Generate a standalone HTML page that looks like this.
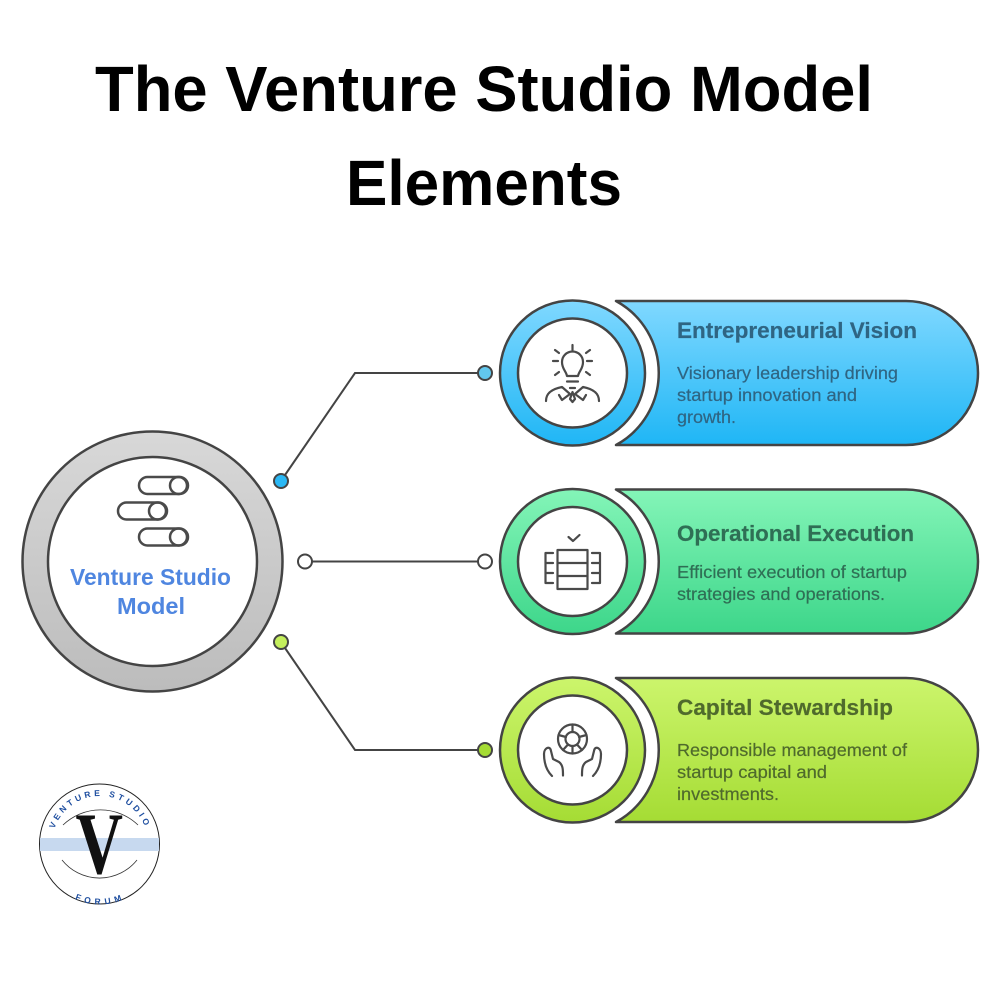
<!DOCTYPE html>
<html><head><meta charset="utf-8"><style>html,body{margin:0;padding:0;background:#fff}svg{display:block}
text{font-family:"Liberation Sans",sans-serif}</style></head><body>
<svg width="1000" height="1000" viewBox="0 0 1000 1000" xmlns="http://www.w3.org/2000/svg">
<defs>
<linearGradient id="g0" x1="0" y1="0" x2="0" y2="1"><stop offset="0" stop-color="#d8d8d8"/><stop offset="1" stop-color="#bcbcbc"/></linearGradient>
<linearGradient id="g1" x1="0" y1="0" x2="0" y2="1"><stop offset="0" stop-color="#80d8ff"/><stop offset="1" stop-color="#1fb6f5"/></linearGradient>
<linearGradient id="g2" x1="0" y1="0" x2="0" y2="1"><stop offset="0" stop-color="#84f5b8"/><stop offset="1" stop-color="#3dd68a"/></linearGradient>
<linearGradient id="g3" x1="0" y1="0" x2="0" y2="1"><stop offset="0" stop-color="#ccf56c"/><stop offset="1" stop-color="#a5dc34"/></linearGradient>
<path id="lt" d="M52 844 A48 48 0 0 1 148 844"/>
<path id="lb" d="M46 844 A54 54 0 0 0 154 844"/>
</defs>

<g font-weight="700" fill="#000" font-size="64">
<text x="95" y="111" textLength="778" lengthAdjust="spacingAndGlyphs">The Venture Studio Model</text>
<text x="346" y="205" textLength="276" lengthAdjust="spacingAndGlyphs">Elements</text>
</g>

<!-- left hub -->
<circle cx="152.5" cy="561.5" r="130" fill="url(#g0)" stroke="#444" stroke-width="2.5"/>
<circle cx="152.5" cy="561.5" r="104.5" fill="#fff" stroke="#444" stroke-width="2.5"/>
<g fill="none" stroke="#4a4a4a" stroke-width="2.5">
<rect x="139" y="477" width="49" height="17" rx="8.5"/><circle cx="178.5" cy="485.5" r="8.5"/>
<rect x="118" y="502.5" width="49" height="17" rx="8.5"/><circle cx="157.5" cy="511" r="8.5"/>
<rect x="139" y="528.5" width="49" height="17" rx="8.5"/><circle cx="178.5" cy="537" r="8.5"/>
</g>
<g font-weight="700" fill="#4f86e0" font-size="23">
<text x="70" y="585" textLength="161" lengthAdjust="spacingAndGlyphs">Venture Studio</text>
<text x="117" y="614" textLength="68" lengthAdjust="spacingAndGlyphs">Model</text>
</g>

<!-- connectors -->
<g fill="none" stroke="#444" stroke-width="2">
<path d="M285 475 L355 373 H478"/>
<path d="M312 561.5 H478"/>
<path d="M285 648 L355 750 H478"/>
</g>
<g stroke="#444" stroke-width="2">
<circle cx="281" cy="481" r="7" fill="#2ab8f5"/>
<circle cx="485" cy="373" r="7" fill="#62c8ee"/>
<circle cx="305" cy="561.5" r="7" fill="#fff"/>
<circle cx="485" cy="561.5" r="7" fill="#fff"/>
<circle cx="281" cy="642" r="7" fill="#c4ef5c"/>
<circle cx="485" cy="750" r="7" fill="#a5dc34"/>
</g>

<!-- row 1 -->
<path d="M616 301 H906 A72 72 0 0 1 906 445 H616 A82 82 0 0 0 616 301 Z" fill="url(#g1)" stroke="#444" stroke-width="2.5" stroke-linejoin="round"/>
<circle cx="572.5" cy="373" r="72.5" fill="url(#g1)" stroke="#444" stroke-width="2.5"/>
<circle cx="572.5" cy="373" r="54.5" fill="#fff" stroke="#444" stroke-width="2.5"/>
<g fill="none" stroke="#4a4a4a" stroke-width="2.2" stroke-linecap="round" stroke-linejoin="round">
<path d="M567 376 C566 371 562 369 562 362 A10.5 10.5 0 0 1 583 362 C583 369 579 371 578 376 Z"/>
<path d="M567 381.5 H578"/>
<path d="M572.5 345 V350 M553 361 H558 M587 361 H592 M555 350 L559 353 M590 350 L586 353 M555 375 L559 372 M590 375 L586 372"/>
<path d="M546 401 C546 393 552 389 562 387 L570 394 L562 400 L559 395 M599 401 C599 393 593 389 583 387 L575 394 L583 400 L586 395"/>
<path d="M570 388 H575 M572.5 392 L570 399 L572.5 402 L575 399 Z"/>
</g>
<g fill="#2f6583" stroke="#2f6583" stroke-width="0.2">
<text x="677" y="338" font-size="22" font-weight="700" textLength="240" lengthAdjust="spacingAndGlyphs">Entrepreneurial Vision</text>
<g font-size="17.5">
<text x="677" y="379" textLength="221" lengthAdjust="spacingAndGlyphs">Visionary leadership driving</text>
<text x="677" y="401" textLength="180" lengthAdjust="spacingAndGlyphs">startup innovation and</text>
<text x="677" y="423" textLength="59" lengthAdjust="spacingAndGlyphs">growth.</text>
</g></g>

<!-- row 2 -->
<path d="M616 489.5 H906 A72 72 0 0 1 906 633.5 H616 A82 82 0 0 0 616 489.5 Z" fill="url(#g2)" stroke="#444" stroke-width="2.5" stroke-linejoin="round"/>
<circle cx="572.5" cy="561.5" r="72.5" fill="url(#g2)" stroke="#444" stroke-width="2.5"/>
<circle cx="572.5" cy="561.5" r="54.5" fill="#fff" stroke="#444" stroke-width="2.5"/>
<g fill="none" stroke="#4a4a4a" stroke-width="2.2" stroke-linecap="round" stroke-linejoin="round">
<path d="M568.5 537 L573 541 L579.5 535"/>
<rect x="557.5" y="550" width="30" height="39"/>
<path d="M557.5 563 H587.5 M557.5 576 H587.5"/>
<path d="M553 553 H545.5 V583 H553 M546 563 H553 M546 573 H553"/>
<path d="M592 553 H600 V583 H592 M592 563 H599 M592 573 H599"/>
</g>
<g fill="#2f6f55" stroke="#2f6f55" stroke-width="0.2">
<text x="677" y="541" font-size="22" font-weight="700" textLength="237" lengthAdjust="spacingAndGlyphs">Operational Execution</text>
<g font-size="17.5">
<text x="677" y="578" textLength="230" lengthAdjust="spacingAndGlyphs">Efficient execution of startup</text>
<text x="677" y="600" textLength="208" lengthAdjust="spacingAndGlyphs">strategies and operations.</text>
</g></g>

<!-- row 3 -->
<path d="M616 678 H906 A72 72 0 0 1 906 822 H616 A82 82 0 0 0 616 678 Z" fill="url(#g3)" stroke="#444" stroke-width="2.5" stroke-linejoin="round"/>
<circle cx="572.5" cy="750" r="72.5" fill="url(#g3)" stroke="#444" stroke-width="2.5"/>
<circle cx="572.5" cy="750" r="54.5" fill="#fff" stroke="#444" stroke-width="2.5"/>
<g fill="none" stroke="#4a4a4a" stroke-width="2.2" stroke-linecap="round" stroke-linejoin="round">
<circle cx="572.5" cy="739" r="14.5"/>
<circle cx="572.5" cy="739" r="7"/>
<path d="M572.5 724.5 V732 M572.5 746 V753.5 M558.5 735 L566 737 M586.5 735 L579 737 M563 750 L568 744.5 M582 750 L577 744.5"/>
<path d="M552 776 C546 770 544 762 544 754 C544 748 550 745 551 751 L553 759 L559 762 C563 765 563 770 563 775.5"/>
<path d="M593 776 C599 770 601 762 601 754 C601 748 595 745 594 751 L592 759 L586 762 C582 765 582 770 582 775.5"/>
</g>
<g fill="#4f6a2c" stroke="#4f6a2c" stroke-width="0.2">
<text x="677" y="715" font-size="22" font-weight="700" textLength="216" lengthAdjust="spacingAndGlyphs">Capital Stewardship</text>
<g font-size="17.5">
<text x="677" y="756" textLength="230" lengthAdjust="spacingAndGlyphs">Responsible management of</text>
<text x="677" y="778" textLength="150" lengthAdjust="spacingAndGlyphs">startup capital and</text>
<text x="677" y="800" textLength="102" lengthAdjust="spacingAndGlyphs">investments.</text>
</g></g>

<!-- logo -->
<circle cx="99.5" cy="844" r="60" fill="#fff" stroke="#222" stroke-width="1"/>
<rect x="40" y="838" width="119" height="13" fill="#c7d9ef"/>
<path d="M63 825 A54 54 0 0 1 138 825 M62 860 A48 48 0 0 0 137 860" fill="none" stroke="#333" stroke-width="0.8"/>
<text x="75.5" y="873" font-size="88" font-weight="700" fill="#111" textLength="47.5" lengthAdjust="spacingAndGlyphs" style="font-family:'Liberation Serif',serif">V</text>
<g font-size="8.5" fill="#1f4fa0" style="font-family:'Liberation Serif',serif" font-weight="700">
<text letter-spacing="3.2"><textPath href="#lt" startOffset="50%" text-anchor="middle">VENTURE STUDIO</textPath></text>
<text letter-spacing="3.2"><textPath href="#lb" startOffset="50%" text-anchor="middle" dominant-baseline="hanging">FORUM</textPath></text>
</g>
</svg>
</body></html>
